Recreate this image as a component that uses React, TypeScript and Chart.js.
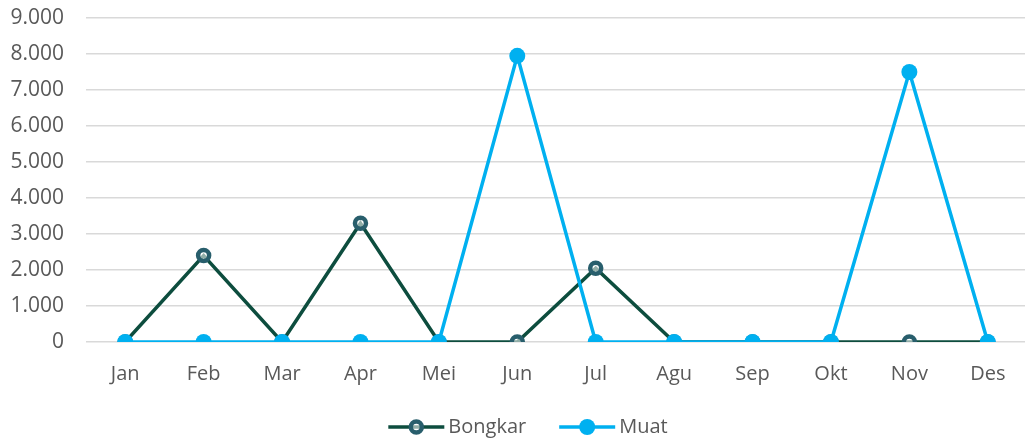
import React, { useEffect, useRef } from "react";
import { Chart, registerables } from "chart.js";

Chart.register(...registerables);

const months = ["Jan", "Feb", "Mar", "Apr", "Mei", "Jun", "Jul", "Agu", "Sep", "Okt", "Nov", "Des"];
const bongkar = [0, 2400, 0, 3300, 0, 0, 2050, 0, 0, 0, 0, 0];
const muat = [0, 0, 0, 0, 0, 7950, 0, 0, 0, 0, 7500, 0];
const seriesNames = ["Bongkar", "Muat"];
const yMax = 9000;
const yStep = 1000;

const FONT = "'Open Sans', 'Noto Sans', sans-serif";
const TEXT = "#595959";
const BONGKAR_LINE = "#0D4D3E";
const BONGKAR_MARK = "#285E6C";
const MUAT = "#00B0F0";

const fmt = (v: number) => String(v).replace(/\B(?=(\d{3})+(?!\d))/g, ".");

const legendPlugin = {
  id: "customLegend",
  afterDraw(chart: any) {
    const ctx = chart.ctx as CanvasRenderingContext2D;
    const y = 427;
    const symW = 56;
    const textGap = 4;
    const itemGap = 33;
    ctx.save();
    ctx.font = `20px ${FONT}`;
    const items = chart.data.datasets.map((ds: any) => ({
      ds,
      w: symW + textGap + ctx.measureText(ds.label).width,
    }));
    const total = items.reduce((a: number, it: any) => a + it.w, 0) + itemGap * (items.length - 1);
    let x = 528 - total / 2;
    for (const it of items) {
      const ds = it.ds;
      ctx.strokeStyle = ds.borderColor;
      ctx.lineWidth = ds.borderWidth;
      ctx.beginPath();
      ctx.moveTo(x, y);
      ctx.lineTo(x + symW, y);
      ctx.stroke();
      ctx.beginPath();
      ctx.arc(x + symW / 2, y, ds.pointRadius, 0, Math.PI * 2);
      if (ds.pointBackgroundColor) {
        ctx.fillStyle = ds.pointBackgroundColor;
        ctx.fill();
      }
      if (ds.pointBorderWidth > 0) {
        ctx.lineWidth = ds.pointBorderWidth;
        ctx.strokeStyle = ds.pointBorderColor;
        ctx.stroke();
      }
      ctx.fillStyle = TEXT;
      ctx.textBaseline = "middle";
      ctx.textAlign = "left";
      ctx.fillText(ds.label, x + symW + textGap, y);
      x += it.w + itemGap;
    }
    ctx.restore();
  },
};

export default function App() {
  const ref = useRef<HTMLCanvasElement | null>(null);
  useEffect(() => {
    if (!ref.current) return;
    const chart = new Chart(ref.current, {
      type: "line",
      data: {
        labels: months,
        datasets: [
          {
            label: seriesNames[0],
            data: bongkar,
            borderColor: BONGKAR_LINE,
            borderWidth: 3.5,
            pointRadius: 5.5,
            pointBorderWidth: 4.5,
            pointBorderColor: BONGKAR_MARK,
            pointBackgroundColor: "rgba(255,255,255,0.55)",
            tension: 0,
            order: 1,
          },
          {
            label: seriesNames[1],
            data: muat,
            borderColor: MUAT,
            borderWidth: 3.5,
            pointRadius: 8,
            pointBorderWidth: 0,
            pointBorderColor: MUAT,
            pointBackgroundColor: MUAT,
            tension: 0,
            order: 0,
          },
        ],
      },
      options: {
        animation: false,
        responsive: false,
        maintainAspectRatio: false,
        layout: { padding: { top: 18, right: 0, bottom: 48, left: 0 } },
        plugins: { legend: { display: false }, tooltip: { enabled: false } },
        scales: {
          x: {
            offset: true,
            grid: { display: false, drawTicks: false },
            border: { display: false },
            ticks: { color: TEXT, font: { family: FONT, size: 20 }, padding: 20, maxRotation: 0 },
            afterFit: (s: any) => {
              s.height = 50;
            },
          },
          y: {
            min: 0,
            max: yMax,
            ticks: {
              stepSize: yStep,
              color: TEXT,
              font: { family: FONT, size: 21 },
              padding: 22,
              callback: (v: any) => fmt(Number(v)),
            },
            grid: { color: "#D9D9D9", lineWidth: 1.5, drawTicks: false },
            border: { display: false },
            afterFit: (s: any) => {
              s.width = 86;
              s.paddingTop = 0;
              s.paddingBottom = 0;
            },
          },
        },
      },
      plugins: [legendPlugin],
    });
    return () => chart.destroy();
  }, []);
  return (
    <div style={{ position: "fixed", left: 0, top: 0, width: 1025, height: 440, overflow: "hidden", background: "#fff" }}>
      <canvas ref={ref} width={1037} height={440} style={{ width: 1037, height: 440, display: "block" }} />
    </div>
  );
}
